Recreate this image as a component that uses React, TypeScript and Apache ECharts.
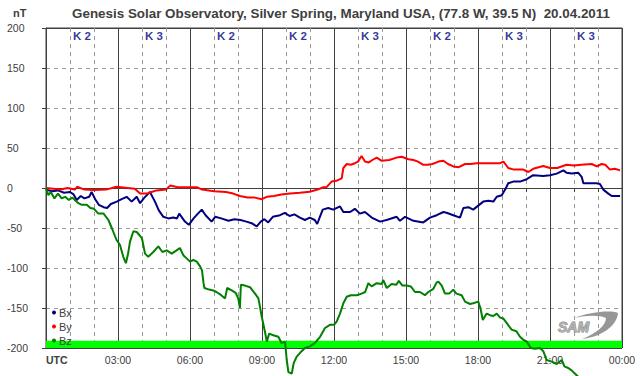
import React, { useEffect, useRef } from 'react';
import * as echarts from 'echarts';

// ---------- data (hours UTC, nT) ----------
const bxData: [number, number][] = [
  [0, -2], [0.25, -4], [0.5, -3], [0.75, -6], [1.0, -5], [1.15, -8], [1.28, -15], [1.45, -10], [1.6, -13],
  [1.8, -11], [1.9, -5], [2.05, -14], [2.2, -21], [2.4, -24], [2.55, -25], [2.7, -20], [2.95, -17],
  [3.15, -14], [3.36, -11], [3.57, -17], [3.78, -11], [3.92, -19], [4.1, -12], [4.33, -5], [4.54, -17],
  [4.7, -28], [4.89, -36], [5.1, -38], [5.3, -37], [5.46, -38], [5.55, -32], [5.79, -42], [5.95, -46],
  [6.15, -38], [6.3, -33], [6.49, -27], [6.65, -34], [6.9, -42], [7.05, -36], [7.3, -38], [7.6, -41],
  [7.85, -39], [8.1, -40], [8.35, -42], [8.57, -44], [8.78, -48], [8.95, -42], [9.1, -39], [9.26, -43],
  [9.45, -36], [9.75, -34], [9.95, -31], [10.15, -35], [10.35, -33], [10.58, -37], [10.79, -40],
  [10.99, -37], [11.2, -40], [11.3, -45], [11.4, -37], [11.53, -27], [11.76, -25], [11.97, -27],
  [12.25, -23], [12.39, -30], [12.67, -30], [12.87, -26], [13.08, -32], [13.29, -30], [13.57, -37],
  [13.92, -42], [14.19, -40], [14.61, -36], [14.75, -41], [14.96, -36], [15.31, -41], [15.72, -43],
  [16.0, -37], [16.28, -34], [16.56, -30], [16.69, -31], [16.97, -34], [17.25, -37], [17.39, -25],
  [17.6, -24], [17.8, -27], [18.01, -22], [18.22, -17], [18.43, -16], [18.64, -17], [18.78, -11],
  [18.99, -9], [19.13, -2], [19.26, 6], [19.47, 8], [19.75, 8], [20.03, 11], [20.3, 16], [20.72, 15],
  [21.0, 16], [21.28, 18], [21.56, 22], [21.69, 19], [21.9, 18], [22.18, 19], [22.32, 14], [22.39, 6],
  [22.67, 6], [22.94, 6], [23.08, 5], [23.22, -2], [23.43, -7], [23.57, -10], [23.92, -10]
];

const byData: [number, number][] = [
  [0, 0], [0.3, -1], [0.6, -2], [0.9, 0], [1.2, -2], [1.3, 1.5], [1.6, -2], [2.0, -2.5], [2.5, -2],
  [2.94, 1.5], [3.4, 0], [3.7, -1], [3.92, -7], [4.2, -7], [4.4, -5], [4.6, -3], [5.0, -2], [5.17, 3],
  [5.5, 1], [6.0, 1], [6.28, 1], [6.5, -2], [7.0, -4], [7.5, -5], [7.8, -7], [8.08, -10], [8.4, -12],
  [8.7, -12], [8.99, -14], [9.2, -11], [9.5, -10], [9.8, -8], [10.17, -7], [10.58, -6], [10.99, -4.6],
  [11.35, -1.6], [11.56, 1], [11.69, 1], [11.9, 8], [12.1, 9], [12.32, 12], [12.39, 25], [12.53, 30],
  [12.7, 29], [12.87, 31], [13.0, 33], [13.15, 40], [13.29, 33], [13.45, 32], [13.6, 35], [13.78, 38],
  [13.99, 34], [14.3, 35], [14.61, 38], [14.82, 39], [15.1, 36], [15.31, 35], [15.5, 33], [15.72, 29],
  [15.9, 29], [16.1, 30], [16.35, 33], [16.56, 34], [16.75, 30], [16.97, 27], [17.2, 26], [17.46, 30],
  [17.7, 30], [17.94, 31], [18.3, 31], [18.6, 31], [18.92, 31], [19.06, 33], [19.26, 25], [19.5, 23],
  [19.89, 23], [20.1, 20], [20.3, 24], [20.72, 27.5], [21.0, 25], [21.3, 25], [21.69, 29], [22.0, 28],
  [22.3, 29], [22.74, 30], [22.95, 27], [23.15, 30], [23.3, 29], [23.5, 23], [23.7, 24], [23.92, 22]
];

const bzData: [number, number][] = [
  [0, 0], [0.1, -9], [0.2, -5], [0.35, -13], [0.5, -7], [0.65, -13], [0.8, -11], [0.95, -15], [1.1, -12],
  [1.2, -15], [1.35, -19], [1.49, -21], [1.7, -21], [1.85, -25], [2.0, -26], [2.18, -32], [2.4, -32],
  [2.6, -40], [2.74, -50], [2.94, -65], [3.08, -71], [3.22, -86], [3.33, -94], [3.42, -82], [3.5, -67],
  [3.64, -54], [3.78, -55], [3.92, -60], [4.0, -63], [4.125, -82], [4.26, -86], [4.47, -80], [4.68, -73],
  [4.85, -80], [5.03, -78], [5.24, -82], [5.44, -78], [5.58, -75], [5.72, -84], [5.86, -88], [6.0, -92],
  [6.14, -90], [6.28, -92], [6.42, -98], [6.5, -103], [6.56, -118], [6.6, -125], [6.8, -127], [6.97, -128],
  [7.1, -130], [7.3, -134], [7.46, -138], [7.55, -125], [7.74, -128], [7.9, -131], [8.01, -138],
  [8.08, -150], [8.12, -121], [8.29, -122], [8.5, -124], [8.71, -132], [8.85, -138], [8.99, -161],
  [9.125, -180], [9.2, -192], [9.3, -182], [9.47, -184], [9.68, -186], [9.82, -194], [9.96, -192],
  [10.03, -215], [10.1, -230], [10.24, -232], [10.32, -219], [10.44, -211], [10.65, -204], [10.79, -200],
  [11.0, -198], [11.2, -194], [11.42, -186], [11.625, -175], [11.83, -171], [12.0, -171], [12.11, -167],
  [12.25, -157], [12.39, -144], [12.53, -136], [12.7, -134], [12.95, -134], [13.15, -132], [13.3, -130],
  [13.43, -119], [13.57, -123], [13.78, -119], [13.99, -120], [14.05, -115], [14.2, -125], [14.4, -120],
  [14.6, -121], [14.7, -116], [14.85, -122], [15.03, -122], [15.2, -123], [15.375, -130], [15.58, -130],
  [15.79, -134], [15.93, -130], [16.14, -126], [16.28, -118], [16.35, -117], [16.49, -122], [16.625, -132],
  [16.8, -132], [16.97, -127], [17.1, -132], [17.32, -134], [17.46, -142], [17.67, -145], [17.8, -144],
  [18.01, -142], [18.1, -150], [18.2, -165], [18.36, -157], [18.5, -159], [18.64, -160], [18.78, -157],
  [18.92, -162], [19.05, -163], [19.2, -169], [19.4, -177], [19.6, -179], [19.75, -186], [19.9, -190],
  [20.03, -192], [20.2, -200], [20.375, -201], [20.58, -200], [20.72, -204], [20.86, -215], [21.07, -217],
  [21.28, -220], [21.49, -215], [21.6, -223], [21.76, -225], [21.9, -228], [22.11, -234], [22.3, -240]
];

// K index per 3-hour interval
const kIndexLabels = ['K 2', 'K 3', 'K 2', 'K 2', 'K 3', 'K 2', 'K 3', 'K 3'];
const kLabelLevel = 190;

// x tick labels per hour (0..24)
const timeLabels = [
  'UTC', '', '', '03:00', '', '', '06:00', '', '', '09:00', '', '', '12:00', '', '', '15:00', '', '',
  '18:00', '', '', '21:00', '', '', '00:00'
];
const yMin = -200;
const yMax = 200;
const yStep = 50;
const bandRange = [-200, -191];

const seriesNames = ['Bx', 'By', 'Bz'];
const seriesColors = ['#000080', '#ff0000', '#008000'];

const FONT = '"Liberation Sans", Arial, sans-serif';

const swooshD =
  'M 574 318 C 590 312 610 310 618 313 C 617 326 601 337 582 339 C 597 333 606 325 606 318 C 600 315 588 315 574 318 Z';
let registered = false;
function ensureShapes() {
  if (registered) return;
  echarts.graphic.registerShape('samSwoosh', echarts.graphic.extendPath(swooshD, {}) as any);
  registered = true;
}

export default function App() {
  const ref = useRef<HTMLDivElement>(null);
  useEffect(() => {
    if (!ref.current) return;
    ensureShapes();
    const chart = echarts.init(ref.current, undefined, { renderer: 'svg' });
    const lineSeries = [bxData, byData, bzData].map((d, i) => ({
      name: seriesNames[i],
      type: 'line',
      data: d,
      xAxisIndex: 0,
      yAxisIndex: 0,
      showSymbol: false,
      symbol: 'circle',
      clip: false,
      z: 3,
      lineStyle: { color: seriesColors[i], width: 2 },
      itemStyle: { color: seriesColors[i] },
    }));
    const option: any = {
      animation: false,
      backgroundColor: '#ffffff',
      textStyle: { fontFamily: FONT },
      grid: {
        left: 46, top: 28, width: 576, height: 320,
        show: true, borderColor: '#404040', borderWidth: 1,
      },
      legend: {
        data: seriesNames,
        orient: 'vertical',
        left: 47,
        top: 302,
        icon: 'circle',
        itemWidth: 4,
        itemHeight: 4,
        itemGap: 3,
        textStyle: { fontSize: 11, color: '#404040', fontFamily: FONT, padding: [0, 0, 0, -2] },
      },
      xAxis: [
        {
          type: 'value', min: 0, max: 24, interval: 1,
          axisLine: { show: true, lineStyle: { color: '#404040' } },
          axisTick: { show: true, length: 4, lineStyle: { color: '#404040' } },
          splitLine: { show: true, lineStyle: { color: '#999999', type: [4, 4], width: 1 } },
          axisLabel: {
            margin: 6,
            fontSize: 10.5,
            color: '#404040',
            fontFamily: FONT,
            alignMinLabel: 'left',
            formatter: (v: number) => {
              const s = timeLabels[Math.round(v)] ?? '';
              return s === 'UTC' ? '{u|UTC}' : s;
            },
            rich: { u: { fontWeight: 'bold', fontSize: 10.5, color: '#404040', fontFamily: FONT } },
          },
        },
        {
          type: 'value', min: 0, max: 24, interval: 3, position: 'top',
          axisLine: { show: false }, axisTick: { show: false }, axisLabel: { show: false },
          splitLine: { show: true, lineStyle: { color: '#404040', width: 1 } },
        },
      ],
      yAxis: [
        {
          type: 'value', min: yMin, max: yMax, interval: yStep,
          axisLine: { show: true, lineStyle: { color: '#404040' } },
          axisTick: { show: true, length: 4, lineStyle: { color: '#404040' } },
          splitLine: { show: true, lineStyle: { color: '#999999', type: [4, 4], width: 1 } },
          axisLabel: { align: 'left', margin: 39, fontSize: 10.5, color: '#404040', fontFamily: FONT },
        },
        {
          type: 'value', min: yMin, max: yMax, interval: 200, position: 'right',
          axisLine: { show: false }, axisTick: { show: false }, axisLabel: { show: false },
          splitLine: { show: true, lineStyle: { color: '#404040', width: 1 } },
        },
      ],
      series: [
        {
          name: 'K',
          type: 'scatter',
          xAxisIndex: 0,
          yAxisIndex: 0,
          symbolSize: 0,
          z: 4,
          data: kIndexLabels.map((k, i) => ({ name: k, value: [1.5 + 3 * i, kLabelLevel] })),
          label: {
            show: true, position: 'inside', formatter: '{b}',
            fontSize: 11.5, fontWeight: 'bold', color: '#000080', fontFamily: FONT,
          },
          markArea: {
            silent: true,
            itemStyle: { color: '#00ff00', opacity: 1 },
            data: [[{ xAxis: 0, yAxis: bandRange[0] }, { xAxis: 24, yAxis: bandRange[1] }]],
          },
        },
        ...lineSeries,
      ],
      graphic: [
        {
          type: 'text', left: 13, top: 7,
          style: { text: 'nT', font: `bold 11px ${FONT}`, fill: '#404040' },
        },
        {
          type: 'text', x: 341, y: 13,
          style: {
            text: 'Genesis Solar Observatory, Silver Spring, Maryland USA, (77.8 W, 39.5 N)  20.04.2011',
            font: `bold 13.4px ${FONT}`, fill: '#404040', textAlign: 'center', textVerticalAlign: 'middle',
          },
        },
        {
          type: 'samSwoosh', x: 0, y: 0, z: 1,
          style: { fill: '#8c8c8c', opacity: 0.9 },
        },
        {
          type: 'text', x: 558, y: 327, z: 1,
          style: {
            text: 'SAM', font: `italic bold 14px ${FONT}`, fill: '#b0b0b0', stroke: '#7a7a7a', lineWidth: 0.8,
            textVerticalAlign: 'middle',
          },
        },
      ],
    };
    chart.setOption(option);
    return () => chart.dispose();
  }, []);
  return (
    <div
      ref={ref}
      style={{ position: 'fixed', left: 0, top: 0, width: 642, height: 376, background: '#fff' }}
    />
  );
}
